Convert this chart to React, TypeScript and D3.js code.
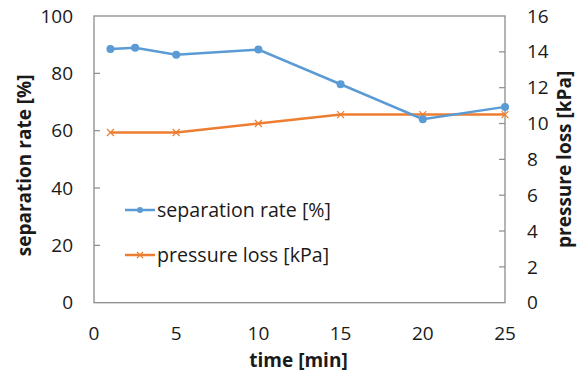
import React from 'react';
import * as d3 from 'd3';

const rateTimes = [1, 2.5, 5, 10, 15, 20, 25];
const rateValues = [88.5, 88.9, 86.5, 88.3, 76.2, 64.0, 68.3];
const lossTimes = [1, 5, 10, 15, 20, 25];
const lossValues = [9.5, 9.5, 10.0, 10.5, 10.5, 10.5];
const xTicks = [0, 5, 10, 15, 20, 25];
const leftTicks = [0, 20, 40, 60, 80, 100];
const rightTicks = [0, 2, 4, 6, 8, 10, 12, 14, 16];

const W = 582;
const H = 372;
const left = 94;
const right = 505;
const top = 16;
const bottom = 302.7;
const font = '"Open Sans", sans-serif';
const blue = '#5B9BD5';
const orange = '#ED7D31';
const grey = '#8c8c8c';

export default function App() {
  const x = d3.scaleLinear().domain([0, 25]).range([left, right]);
  const yL = d3.scaleLinear().domain([0, 100]).range([bottom, top]);
  const yR = d3.scaleLinear().domain([0, 16]).range([bottom, top]);

  const rateLine = d3
    .line<number>()
    .x((_, i) => x(rateTimes[i]))
    .y((d) => yL(d));
  const lossLine = d3
    .line<number>()
    .x((_, i) => x(lossTimes[i]))
    .y((d) => yR(d));

  const cross = (cx: number, cy: number, s: number, key: any) => (
    <path
      key={key}
      d={`M${cx - s},${cy - s}L${cx + s},${cy + s}M${cx - s},${cy + s}L${cx + s},${cy - s}`}
      stroke={orange}
      strokeWidth={1.2}
      fill="none"
    />
  );

  return (
    <svg
      width={W}
      height={H}
      style={{ position: 'absolute', left: 0, top: 0, background: '#fff' }}
      fontFamily={font}
    >
      <rect x={left} y={top} width={right - left} height={bottom - top} fill="none" stroke={grey} strokeWidth={1.3} />
      {leftTicks.map((t) => (
        <g key={'l' + t}>
          {t > 0 && t < 100 && <line x1={left} x2={left + 6} y1={yL(t)} y2={yL(t)} stroke={grey} strokeWidth={1.2} />}
          <text x={73} y={yL(t)} dy="0.35em" textAnchor="end" fontSize={19} fill="#1a1a1a">
            {t}
          </text>
        </g>
      ))}
      {rightTicks.map((t) => (
        <g key={'r' + t}>
          {t > 0 && t < 16 && <line x1={right - 6} x2={right} y1={yR(t)} y2={yR(t)} stroke={grey} strokeWidth={1.2} />}
          <text x={527} y={yR(t)} dy="0.35em" textAnchor="start" fontSize={19} fill="#1a1a1a">
            {t}
          </text>
        </g>
      ))}
      {xTicks.map((t) => (
        <text key={'x' + t} x={x(t)} y={340} textAnchor="middle" fontSize={19} fill="#1a1a1a">
          {t}
        </text>
      ))}
      <text x={x(12.5) - 1} y={367} textAnchor="middle" fontSize={19} fontWeight="bold" fill="#1a1a1a">
        time [min]
      </text>
      <text
        transform={`translate(31,${(top + bottom) / 2 + 6}) rotate(-90)`}
        textAnchor="middle"
        fontSize={19}
        fontWeight="bold"
        fill="#1a1a1a"
      >
        separation rate [%]
      </text>
      <text
        transform={`translate(571,${(top + bottom) / 2}) rotate(-90)`}
        textAnchor="middle"
        fontSize={19}
        fontWeight="bold"
        fill="#1a1a1a"
      >
        pressure loss [kPa]
      </text>

      <path d={lossLine(lossValues) || ''} fill="none" stroke={orange} strokeWidth={2.5} />
      {lossValues.map((v, i) => cross(x(lossTimes[i]), yR(v), 3.5, 'c' + i))}
      <path d={rateLine(rateValues) || ''} fill="none" stroke={blue} strokeWidth={2.5} />
      {rateValues.map((v, i) => (
        <circle key={'p' + i} cx={x(rateTimes[i])} cy={yL(v)} r={4} fill={blue} />
      ))}

      <line x1={125} x2={155} y1={210} y2={210} stroke={blue} strokeWidth={2.5} />
      <circle cx={140} cy={210} r={3} fill={blue} />
      <text x={157} y={210} dy="0.35em" fontSize={19.6} fill="#1a1a1a">
        separation rate [%]
      </text>
      <line x1={125} x2={155} y1={255} y2={255} stroke={orange} strokeWidth={2.5} />
      {cross(140, 255, 3, 'lc')}
      <text x={157} y={255} dy="0.35em" fontSize={19.6} fill="#1a1a1a">
        pressure loss [kPa]
      </text>
    </svg>
  );
}
